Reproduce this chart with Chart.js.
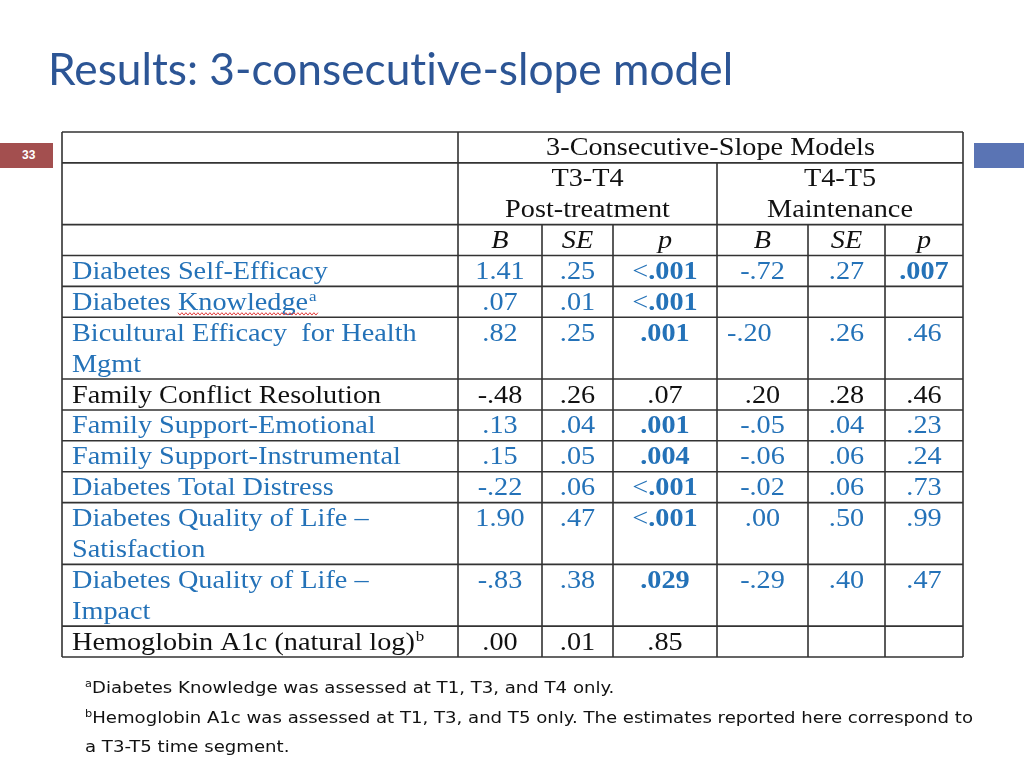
<!DOCTYPE html>
<html>
<head>
<meta charset="utf-8">
<title>Results: 3-consecutive-slope model</title>
<script src="https://cdn.jsdelivr.net/npm/chart.js@4.4.0/dist/chart.umd.min.js"></script>
<style>
    html, body { margin: 0; padding: 0; background: #fff; }
    #slide { position: relative; width: 1024px; height: 768px; overflow: hidden; }
    #table-chart { position: absolute; left: 0; top: 0; }
    #title {
        position: absolute; left: 48px; top: 46px;
        font-family: Lato, "Open Sans", sans-serif; font-size: 44px; line-height: 1;
        font-variant-ligatures: none;
        color: #2c5595; white-space: nowrap; transform-origin: 0 0;
    }
    #page-no {
        position: absolute; left: 0; top: 143px; width: 53px; height: 25px;
        background: #a34f4f; color: #fff; font: bold 12px "Liberation Sans", Arial, sans-serif;
        line-height: 25px;
    }
    #page-no span { position: absolute; left: 22px; }
    #bar { position: absolute; left: 974px; top: 143px; width: 50px; height: 25px; background: #5a74b4; }
    #notes {
        position: absolute; left: 85px; top: 674px;
        font-family: "DejaVu Sans", sans-serif; font-size: 16px; line-height: 27.5px;
        color: #111; white-space: nowrap; transform-origin: 0 0;
    }
    #notes sup { font-size: 10px; vertical-align: baseline; position: relative; top: -6px; }
</style>
</head>
<body>
<div id="slide">
    <canvas id="table-chart" width="1024" height="768"></canvas>
    <div id="title">Results: 3-consecutive-slope model</div>
    <div id="page-no"><span>33</span></div>
    <div id="bar"></div>
    <div id="notes">
        <div><sup>a</sup>Diabetes Knowledge was assessed at T1, T3, and T4 only.</div>
        <div id="note-b"><sup>b</sup>Hemoglobin A1c was assessed at T1, T3, and T5 only. The estimates reported here correspond to</div>
        <div>a T3-T5 time segment.</div>
    </div>
</div>
<script>
// Table content
const modelTitle = '3-Consecutive-Slope Models';
const periodNames = [['T3-T4', 'Post-treatment'], ['T4-T5', 'Maintenance']];
const statNames = ['B', 'SE', 'p'];

const rowLabels = [
    ['Diabetes Self-Efficacy'],
    ['Diabetes Knowledge'],
    ['Bicultural Efficacy  for Health', 'Mgmt'],
    ['Family Conflict Resolution'],
    ['Family Support-Emotional'],
    ['Family Support-Instrumental'],
    ['Diabetes Total Distress'],
    ['Diabetes Quality of Life \u2013', 'Satisfaction'],
    ['Diabetes Quality of Life \u2013', 'Impact'],
    ['Hemoglobin A1c (natural log)']
];
const labelNotes = ['', 'a', '', '', '', '', '', '', '', 'b'];

// T3-T4 Post-treatment
const postB  = ['1.41', '.07', '.82', '-.48', '.13', '.15', '-.22', '1.90', '-.83', '.00'];
const postSE = ['.25', '.01', '.25', '.26', '.04', '.05', '.06', '.47', '.38', '.01'];
const postP  = ['<.001', '<.001', '.001', '.07', '.001', '.004', '<.001', '<.001', '.029', '.85'];
// T4-T5 Maintenance
const maintB  = ['-.72', '', '-.20', '.20', '-.05', '-.06', '-.02', '.00', '-.29', ''];
const maintSE = ['.27', '', '.26', '.28', '.04', '.06', '.06', '.50', '.40', ''];
const maintP  = ['.007', '', '.46', '.46', '.23', '.24', '.73', '.99', '.47', ''];

// Layout of the grid (scale units, not data)
const colWidths = [396, 84, 71, 104, 91, 77, 78];
const colEdges = colWidths.reduce((a, w) => { a.push(a[a.length - 1] + w); return a; }, [0]);
const headerLines = [1, 2, 1];
const rowLines = headerLines.concat(rowLabels.map(r => r.length));
const rowEdges = rowLines.reduce((a, n) => { a.push(a[a.length - 1] + n); return a; }, [0]);
const BASE = 0.76;       // baseline inside one text line
const STRETCH = 1.13;    // the scanned table is a little wider than Times
const BLUE = '#2472b8';
const BLACK = '#111111';
const FONT = '"Liberation Serif", "Times New Roman", serif';

const isSig = p => p !== '' && (p.startsWith('<') || parseFloat(p) < 0.05);
const rowColor = r => isSig(postP[r]) ? BLUE : BLACK;

const series = [postB, postSE, postP, maintB, maintSE, maintP];
const datasets = series.map((vals, i) => ({
    label: periodNames[Math.floor(i / 3)][0] + ' ' + statNames[i % 3],
    data: vals.map((v, r) => ({
        x: (colEdges[i + 1] + colEdges[i + 2]) / 2,
        y: rowEdges[r + 3] + BASE,
        text: v
    })),
    pointRadius: 0,
    pointHoverRadius: 0
}));

function put(ctx, text, px, py, font, color, align) {
    ctx.save();
    ctx.translate(px, py);
    ctx.scale(STRETCH, 1);
    ctx.font = font;
    ctx.fillStyle = color;
    ctx.textAlign = align || 'center';
    ctx.textBaseline = 'alphabetic';
    ctx.fillText(text, 0, 0);
    ctx.restore();
}

function textWidth(ctx, text, font) {
    ctx.save();
    ctx.font = font;
    const w = ctx.measureText(text).width * STRETCH;
    ctx.restore();
    return w;
}

const tablePlugin = {
    id: 'resultsTable',
    afterDraw(chart) {
        const { ctx, scales: { x, y } } = chart;
        const X = u => x.getPixelForValue(u);
        const Y = u => y.getPixelForValue(u);
        const reg = '25px ' + FONT;
        const bold = 'bold 25px ' + FONT;
        const ital = 'italic 25px ' + FONT;

        // grid
        ctx.save();
        ctx.strokeStyle = '#333';
        ctx.lineWidth = 1.6;
        ctx.beginPath();
        rowEdges.forEach(e => { ctx.moveTo(X(0), Y(e)); ctx.lineTo(X(colEdges[7]), Y(e)); });
        colEdges.forEach((e, i) => {
            let from = 0;
            if (i === 4) from = rowEdges[1];
            else if (i > 1 && i < 7) from = rowEdges[2];
            ctx.moveTo(X(e), Y(from));
            ctx.lineTo(X(e), Y(rowEdges[rowEdges.length - 1]));
        });
        ctx.stroke();
        ctx.restore();

        // header
        put(ctx, modelTitle, X((colEdges[1] + colEdges[7]) / 2), Y(BASE), reg, BLACK);
        periodNames.forEach((lines, k) => {
            const cx = X((colEdges[1 + 3 * k] + colEdges[4 + 3 * k]) / 2);
            lines.forEach((t, li) => put(ctx, t, cx, Y(rowEdges[1] + li + BASE), reg, BLACK));
        });
        for (let c = 1; c <= 6; c++) {
            put(ctx, statNames[(c - 1) % 3], X((colEdges[c] + colEdges[c + 1]) / 2),
                Y(rowEdges[2] + BASE), ital, BLACK);
        }

        // row labels
        rowLabels.forEach((lines, r) => {
            const color = rowColor(r);
            const lx = X(0) + 10;
            lines.forEach((t, li) => {
                const by = Y(rowEdges[r + 3] + li + BASE);
                put(ctx, t, lx, by, reg, color, 'left');
                if (li === lines.length - 1 && labelNotes[r]) {
                    put(ctx, labelNotes[r], lx + textWidth(ctx, t, reg) + 1, by - 9,
                        '15px ' + FONT, color, 'left');
                }
            });
            if (lines[0] === 'Diabetes Knowledge') {
                // spell-check squiggle under "Knowledge"
                const sx = lx + textWidth(ctx, 'Diabetes ', reg);
                const ex = lx + textWidth(ctx, 'Diabetes Knowledge', reg) + 10;
                const wy = Y(rowEdges[r + 3] + BASE) + 4;
                ctx.save();
                ctx.strokeStyle = '#e03a3a';
                ctx.lineWidth = 1;
                ctx.beginPath();
                for (let px = sx, k = 0; px <= ex; px += 2, k++) {
                    const py = wy + (k % 2 ? 1.2 : -1.2);
                    if (k === 0) ctx.moveTo(px, py); else ctx.lineTo(px, py);
                }
                ctx.stroke();
                ctx.restore();
            }
        });

        // values, placed at the dataset points
        chart.data.datasets.forEach((ds, i) => {
            const meta = chart.getDatasetMeta(i);
            meta.data.forEach((pt, r) => {
                const v = ds.data[r].text;
                if (!v) return;
                const color = rowColor(r);
                const isP = i % 3 === 2;
                if (isP && isSig(v)) {
                    const lt = v.startsWith('<') ? '<' : '';
                    const rest = v.slice(lt.length);
                    const w1 = lt ? textWidth(ctx, lt, reg) : 0;
                    const w2 = textWidth(ctx, rest, bold);
                    const sx = pt.x - (w1 + w2) / 2;
                    if (lt) put(ctx, lt, sx, pt.y, reg, color, 'left');
                    put(ctx, rest, sx + w1, pt.y, bold, color, 'left');
                } else if (i === 3 && r === 2) {
                    // this one sits flush left in the source table
                    put(ctx, v, X(colEdges[4]) + 10, pt.y, reg, color, 'left');
                } else {
                    put(ctx, v, pt.x, pt.y, reg, color);
                }
            });
        });
    }
};

function fitWidth(el, target) {
    el.style.transform = 'scaleX(' + (target / el.scrollWidth) + ')';
}

document.fonts.ready.then(() => {
    fitWidth(document.getElementById('title'), 685);
    const notes = document.getElementById('notes');
    const lineB = document.getElementById('note-b');
    const range = document.createRange();
    range.selectNodeContents(lineB);
    const w = range.getBoundingClientRect().width;
    notes.style.transform = 'scaleX(' + (888 / w) + ')';

    new Chart(document.getElementById('table-chart'), {
        type: 'scatter',
        data: { datasets },
        options: {
            responsive: false,
            animation: false,
            events: [],
            layout: { padding: { left: 62, top: 132, right: 61, bottom: 111 } },
            plugins: {
                legend: { display: false },
                tooltip: { enabled: false },
                title: { display: false }
            },
            scales: {
                x: { type: 'linear', display: false, min: 0, max: colEdges[colEdges.length - 1] },
                y: { type: 'linear', display: false, min: 0, max: rowEdges[rowEdges.length - 1], reverse: true }
            }
        },
        plugins: [tablePlugin]
    });
});
</script>
</body>
</html>
